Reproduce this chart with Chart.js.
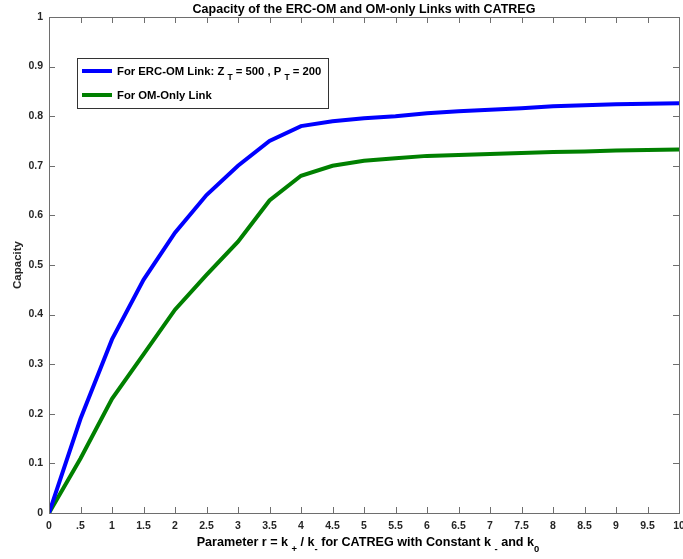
<!DOCTYPE html>
<html>
<head>
<meta charset="utf-8">
<script src="https://cdn.jsdelivr.net/npm/chart.js@4/dist/chart.umd.min.js"></script>
<style>
html,body{margin:0;padding:0;background:#fff;}
#wrap{width:683px;height:559px;position:relative;}
</style>
</head>
<body>
<div id="wrap"><canvas id="c" width="683" height="559"></canvas></div>
<script>
const rValues = [0, 0.5, 1, 1.5, 2, 2.5, 3, 3.5, 4, 4.5, 5, 5.5, 6, 6.5, 7, 7.5, 8, 8.5, 9, 9.5, 10];
const ercOmCapacity = [0, 0.19, 0.35, 0.47, 0.565, 0.641, 0.70, 0.75, 0.78, 0.79, 0.796, 0.80, 0.806, 0.81, 0.813, 0.816, 0.82, 0.822, 0.824, 0.825, 0.826];
const omOnlyCapacity = [0, 0.11, 0.23, 0.32, 0.41, 0.48, 0.547, 0.63, 0.68, 0.70, 0.71, 0.715, 0.72, 0.722, 0.724, 0.726, 0.728, 0.729, 0.731, 0.732, 0.733];
const xTickValues = [0, 0.5, 1, 1.5, 2, 2.5, 3, 3.5, 4, 4.5, 5, 5.5, 6, 6.5, 7, 7.5, 8, 8.5, 9, 9.5, 10];
const xTickLabels = ["0", ".5", "1", "1.5", "2", "2.5", "3", "3.5", "4", "4.5", "5", "5.5", "6", "6.5", "7", "7.5", "8", "8.5", "9", "9.5", "10"];
const yTickValues = [0, 0.1, 0.2, 0.3, 0.4, 0.5, 0.6, 0.7, 0.8, 0.9, 1];
const yTickLabels = ["0", "0.1", "0.2", "0.3", "0.4", "0.5", "0.6", "0.7", "0.8", "0.9", "1"];
const titleText = "Capacity of the ERC-OM and OM-only Links with CATREG";
const yTitle = "Capacity";

const FONT = "'Liberation Sans', Arial, sans-serif";
const TXT = "#262626";
const AXC = "#6e6e6e";

function drawRich(ctx, parts, x, y, size, align) {
  ctx.save();
  ctx.textBaseline = "alphabetic";
  ctx.textAlign = "left";
  let total = 0;
  const widths = parts.map(p => {
    ctx.font = "bold " + (p[1] === 'sub' ? size * 0.75 : size) + "px " + FONT;
    const w = ctx.measureText(p[0]).width; total += w; return w;
  });
  let cx = align === 'center' ? x - total / 2 : x;
  parts.forEach((p, i) => {
    ctx.font = "bold " + (p[1] === 'sub' ? size * 0.75 : size) + "px " + FONT;
    ctx.fillText(p[0], cx, y + (p[1] === 'sub' ? size * 0.45 : 0));
    cx += widths[i];
  });
  ctx.restore();
}

const decor = {
  id: 'decor',
  afterDatasetsDraw(chart) {
    const ctx = chart.ctx;
    const a = chart.chartArea;
    const xs = chart.scales.x, ys = chart.scales.y;
    ctx.save();
    ctx.strokeStyle = AXC;
    ctx.lineWidth = 1;
    ctx.strokeRect(Math.round(a.left) + 0.5, Math.round(a.top) + 0.5, Math.round(a.right - a.left), Math.round(a.bottom - a.top));
    const tl = 6;
    ctx.beginPath();
    xTickValues.forEach(v => {
      const px = Math.round(xs.getPixelForValue(v)) + 0.5;
      ctx.moveTo(px, a.bottom); ctx.lineTo(px, a.bottom - tl);
      ctx.moveTo(px, a.top); ctx.lineTo(px, a.top + tl);
    });
    yTickValues.forEach(v => {
      const py = Math.round(ys.getPixelForValue(v)) + 0.5;
      ctx.moveTo(a.left, py); ctx.lineTo(a.left + tl, py);
      ctx.moveTo(a.right, py); ctx.lineTo(a.right - tl, py);
    });
    ctx.stroke();
    ctx.fillStyle = "#000";
    ctx.font = "bold 12.5px " + FONT;
    ctx.textAlign = "center";
    ctx.textBaseline = "alphabetic";
    ctx.fillText(titleText, (a.left + a.right) / 2, 13);
    ctx.save();
    ctx.translate(21, (a.top + a.bottom) / 2);
    ctx.rotate(-Math.PI / 2);
    ctx.fillStyle = TXT;
    ctx.font = "bold 11.5px " + FONT;
    ctx.textAlign = "center";
    ctx.fillText(yTitle, 0, 0);
    ctx.restore();
    ctx.fillStyle = "#000";
    drawRich(ctx, [["Parameter r = k ", 'n'], ["+", 'sub'], [" / k", 'n'], ["-", 'sub'], [" for CATREG with Constant k ", 'n'], ["-", 'sub'], [" and k", 'n'], ["0", 'sub']], (a.left + a.right) / 2 + 4, 546, 12.6, 'center');
    const lx = 77, ly = 58, lw = 251, lh = 50;
    ctx.fillStyle = "#fff";
    ctx.fillRect(lx, ly, lw, lh);
    ctx.strokeStyle = "#333";
    ctx.lineWidth = 1;
    ctx.strokeRect(lx + 0.5, ly + 0.5, lw, lh);
    const ds = chart.data.datasets;
    const rows = [
      {y: 71, color: ds[0].borderColor, parts: [["For ERC-OM Link: Z ", 'n'], ["T", 'sub'], [" = 500 , P ", 'n'], ["T", 'sub'], [" = 200", 'n']]},
      {y: 95, color: ds[1].borderColor, parts: [[ds[1].label, 'n']]}
    ];
    rows.forEach(r => {
      ctx.strokeStyle = r.color;
      ctx.lineWidth = 4;
      ctx.beginPath();
      ctx.moveTo(82, r.y); ctx.lineTo(112, r.y);
      ctx.stroke();
      ctx.fillStyle = "#000";
      drawRich(ctx, r.parts, 117, r.y + 4, 11.3, 'left');
    });
    ctx.restore();
  }
};

new Chart(document.getElementById('c'), {
  type: 'line',
  data: {
    datasets: [
      {label: "For ERC-OM Link: ZT = 500 , PT = 200", data: rValues.map((x, i) => ({x, y: ercOmCapacity[i]})), borderColor: "#0000ff", borderWidth: 4, pointRadius: 0, tension: 0, fill: false},
      {label: "For OM-Only Link", data: rValues.map((x, i) => ({x, y: omOnlyCapacity[i]})), borderColor: "#008000", borderWidth: 4, pointRadius: 0, tension: 0, fill: false}
    ]
  },
  options: {
    responsive: false,
    animation: false,
    devicePixelRatio: 1,
    layout: {padding: {left: 0, right: 4, top: 17, bottom: 0}},
    plugins: {legend: {display: false}, title: {display: false}, tooltip: {enabled: false}},
    scales: {
      x: {
        type: 'linear', min: 0, max: 10,
        afterBuildTicks: s => { s.ticks = xTickValues.map(v => ({value: v})); },
        afterFit: s => { s.height = 46; s.paddingLeft = 0; s.paddingRight = 0; },
        grid: {display: false, drawTicks: false},
        border: {display: false},
        ticks: {
          autoSkip: false, maxRotation: 0, padding: 7,
          color: TXT, font: {family: FONT, size: 10.5, weight: 'bold'},
          callback: (v) => { const i = xTickValues.indexOf(v); return i >= 0 ? xTickLabels[i] : ''; }
        }
      },
      y: {
        type: 'linear', min: 0, max: 1,
        afterBuildTicks: s => { s.ticks = yTickValues.map(v => ({value: v})); },
        afterFit: s => { s.width = 49; s.paddingTop = 0; s.paddingBottom = 0; },
        grid: {display: false, drawTicks: false},
        border: {display: false},
        ticks: {
          autoSkip: false, padding: 6,
          color: TXT, font: {family: FONT, size: 10.5, weight: 'bold'},
          callback: (v) => { const i = yTickValues.findIndex(t => Math.abs(t - v) < 1e-9); return i >= 0 ? yTickLabels[i] : ''; }
        }
      }
    }
  },
  plugins: [decor]
});
</script>
</body>
</html>
